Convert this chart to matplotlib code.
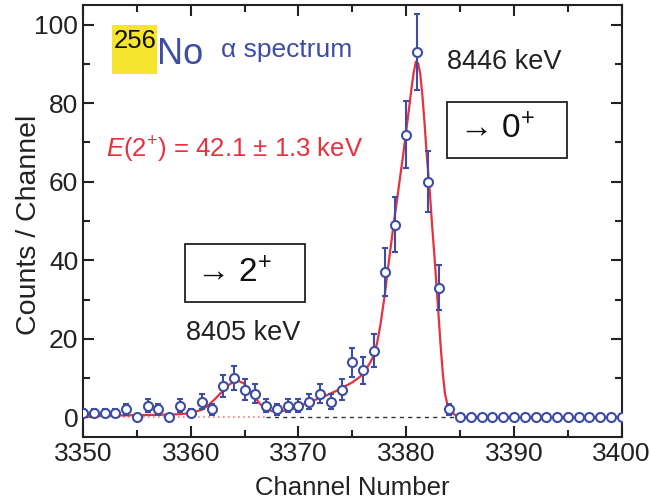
import numpy as np
import matplotlib
matplotlib.use("Agg")
import matplotlib.pyplot as plt
from matplotlib.patches import Rectangle
from matplotlib.ticker import MultipleLocator

plt.rcParams['font.family'] = ['Liberation Sans', 'DejaVu Sans']
plt.rcParams['mathtext.fontset'] = 'custom'
plt.rcParams['mathtext.rm'] = 'Liberation Sans'
plt.rcParams['mathtext.it'] = 'Liberation Sans:italic'

# measured spectrum (counts per channel)
channels = np.arange(3350, 3401)
counts = [1, 1, 1, 1, 2, 0, 3, 2, 0, 3,
          1, 4, 2, 8, 10, 7, 6, 3, 2, 3,
          3, 4, 6, 4, 7, 14, 12, 17, 37, 49,
          72, 93, 60, 33, 2, 0, 0, 0, 0, 0,
          0, 0, 0, 0, 0, 0, 0, 0, 0, 0, 0]

# fitted curve
fit_x = [3350, 3352, 3354, 3356, 3358, 3359, 3360, 3361, 3361.6, 3362.3,
         3362.9, 3363.5, 3364.0, 3364.4, 3364.9, 3365.3, 3365.7, 3366.2, 3366.6, 3367.0,
         3367.5, 3368.0, 3368.7, 3369.5, 3370.2, 3371.0, 3372.0, 3372.6, 3373.4, 3374.1,
         3375.0, 3375.7, 3376.2, 3376.6, 3377.0, 3377.3, 3377.6, 3378.0, 3378.4, 3378.8,
         3379.1, 3379.4, 3379.7, 3380.0, 3380.3, 3380.5, 3380.7, 3380.9, 3381.1, 3381.3,
         3381.5, 3381.7, 3381.9, 3382.2, 3382.4, 3382.6, 3382.8, 3383.0, 3383.2, 3383.4,
         3383.6, 3383.8, 3384.0, 3384.3, 3384.7, 3385.2, 3386.0]
fit_y = [0.4, 0.4, 0.5, 0.6, 0.7, 0.8, 1.1, 1.9, 3.0, 4.8,
         6.5, 8.2, 9.1, 9.3, 8.7, 7.5, 6.0, 4.2, 2.9, 2.1,
         1.6, 1.5, 1.7, 2.2, 3.0, 3.9, 4.9, 5.6, 6.6, 7.6,
         8.9, 10.3, 12.0, 13.7, 15.8, 19.0, 23.5, 31.0, 40.0, 48.5,
         54.5, 60.5, 66.5, 73.0, 79.5, 84.0, 88.0, 90.6, 90.2, 87.5,
         82.0, 75.0, 67.0, 57.0, 49.0, 41.8, 34.0, 26.0, 18.0, 11.0,
         6.0, 3.5, 2.0, 1.0, 0.4, 0.1, 0.0]

# component tails (baselines)
tail2_x = [3350, 3367]
tail2_y = [0, 0]
tail0_x = [3367, 3400]
tail0_y = [0, 0]

blue = "#3c4da3"
red = "#e8303f"
ink = "#222222"

counts = np.array(counts, dtype=float)
err = np.sqrt(counts)

fig = plt.figure(figsize=(6.51, 5.04), dpi=100)
ax = fig.add_axes([0.1275, 0.133, 0.8275, 0.857])

ax.plot(tail2_x, tail2_y, color="#f07a80", ls=(0, (1, 2)), lw=1.2)
ax.plot(tail0_x, tail0_y, color="#333333", ls=(0, (3, 3)), lw=1.0)
ax.plot(fit_x, fit_y, color=red, lw=1.6, zorder=3)

has_err = counts > 0
ax.errorbar(channels[has_err], counts[has_err], yerr=err[has_err], fmt="none",
            ecolor=blue, elinewidth=1.5, capsize=2.5, capthick=1.5, zorder=4)
ax.plot(channels, counts, "o", mfc="white", mec=blue, mew=1.5, ms=6.5, zorder=5)

ax.set_xlim(3350, 3400)
ax.set_ylim(-5, 105)
ax.xaxis.set_major_locator(MultipleLocator(10))
ax.xaxis.set_minor_locator(MultipleLocator(5))
ax.yaxis.set_major_locator(MultipleLocator(20))
ax.yaxis.set_minor_locator(MultipleLocator(10))
ax.tick_params(which="both", direction="in", top=True, right=True,
               labelsize=19, width=1.5, colors=ink)
ax.tick_params(which="major", length=8)
ax.tick_params(which="minor", length=5)
for s in ax.spines.values():
    s.set_linewidth(1.5)
    s.set_color(ink)

ax.set_xlabel("Channel Number", fontsize=18.5, color=ink, labelpad=7)
ax.set_ylabel("Counts / Channel", fontsize=20.5, color=ink)
ax.yaxis.set_label_coords(-0.076, 0.49)

# annotations
ax.add_patch(Rectangle((3352.7, 87.5), 4.2, 12.5, fc="#f5e52f", ec="none", zorder=1))
ax.text(3354.8, 95.8, "256", fontsize=18.5, color="#111111", ha="center", va="center")
ax.text(3356.9, 92.3, "No", fontsize=26, color=blue, ha="left", va="center")
ax.text(3362.8, 93.5, "α spectrum", fontsize=19, color=blue, ha="left", va="center")
ax.text(3364.1, 68, r"$\it{E}$(2$^{+}$) = 42.1 ± 1.3 keV", fontsize=18.5, color=red,
        ha="center", va="center")
ax.text(3389.1, 90.6, "8446 keV", fontsize=19.5, color=ink, ha="center", va="center")
ax.text(3364.9, 21.4, "8405 keV", fontsize=19.5, color=ink, ha="center", va="center")

ax.add_patch(Rectangle((3383.8, 66.1), 11.1, 14.3, fill=False, ec=ink, lw=1.3))
ax.text(3388.4, 73.2, "→ 0$^{+}$", fontsize=24, color="#111111",
        ha="center", va="center")
ax.add_patch(Rectangle((3359.5, 29.3), 11.1, 14.8, fill=False, ec=ink, lw=1.3))
ax.text(3364.0, 36.7, "→ 2$^{+}$", fontsize=24, color="#111111",
        ha="center", va="center")

fig.savefig("out.png", dpi=100)
